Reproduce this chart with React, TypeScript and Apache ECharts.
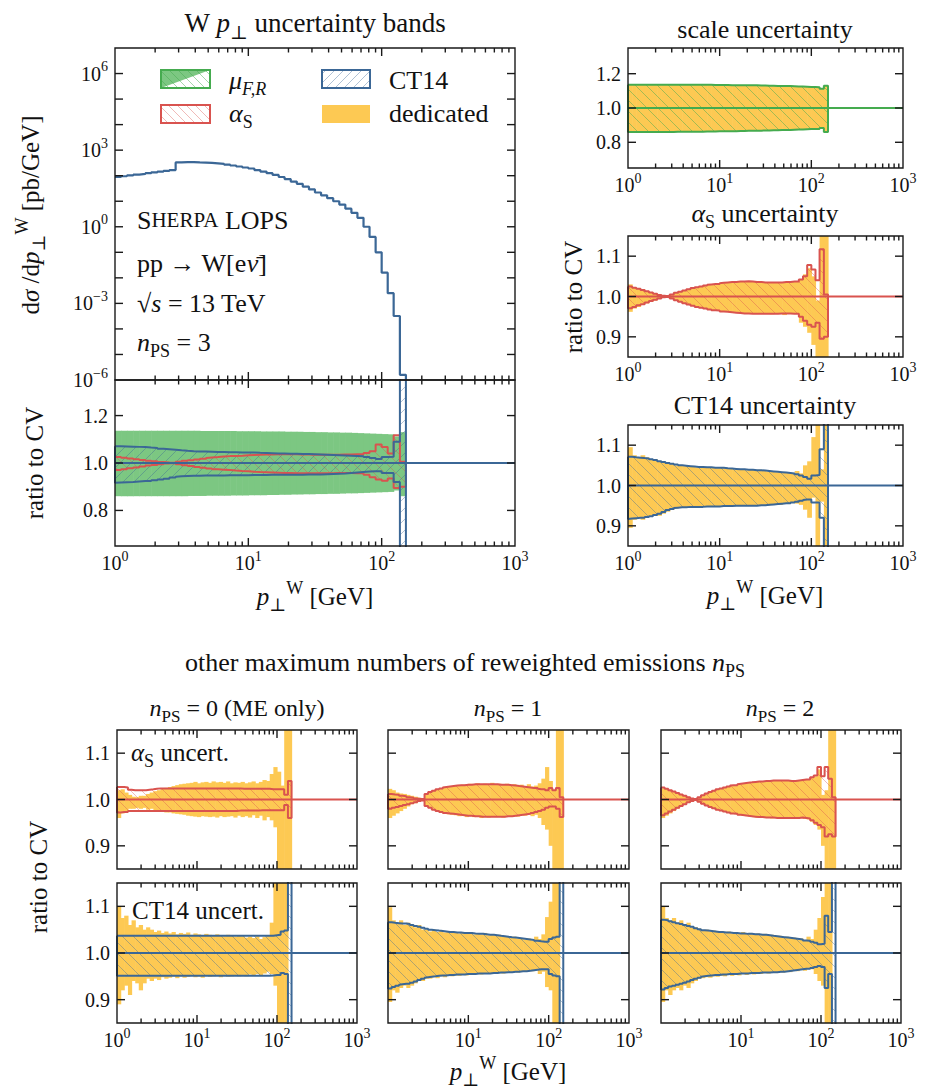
import React, { useEffect, useRef } from "react";
import * as echarts from "echarts";

// ---------- bins (GeV) ----------
const binEdges = [1, 1.11, 1.23, 1.37, 1.52, 1.69, 1.87, 2.08, 2.31, 2.56, 2.85, 3.16, 3.51, 3.9, 4.33, 4.81, 5.34, 5.93, 6.58, 7.31, 8.11, 9.01, 10, 11.1, 12.3, 13.7, 15.2, 16.9, 18.7, 20.8, 23.1, 25.6, 28.5, 31.6, 35.1, 39, 43.3, 48.1, 53.4, 59.3, 65.8, 73.1, 81.1, 90.1, 100, 111, 123, 137, 152];

// ---------- central value dσ/dp⊥ [pb/GeV] ----------
const xsecMain = [89, 95, 102, 110, 117, 126, 135, 145, 155, 166, 331, 339, 339, 331, 324, 316, 302, 288, 269, 251, 229, 209, 191, 166, 145, 126, 107, 89, 74, 59, 48, 37, 29, 22, 17, 13.2, 10, 7.4, 5.1, 3.5, 2.24, 1.0, 0.4, 0.1, 0.016, 0.0025, 0.00032, 0.0000016];

// ---------- n_PS = 3 (deviations from CV in %) ----------
const scaleUp3 = [13.6, 13.6, 13.6, 13.6, 13.6, 13.6, 13.6, 13.6, 13.6, 13.6, 13.6, 13.6, 13.6, 13.6, 13.5, 13.5, 13.5, 13.5, 13.5, 13.5, 13.4, 13.4, 13.4, 13.4, 13.3, 13.3, 13.3, 13.3, 13.2, 13.2, 13.2, 13.1, 13.1, 13.0, 13.0, 12.9, 12.9, 12.8, 12.8, 12.7, 12.6, 12.5, 12.4, 12.3, 12.2, 12.1, 11.2, 13.0];
const scaleDn3 = [-14.0, -14.0, -14.0, -14.0, -14.0, -14.0, -14.0, -14.0, -14.0, -14.0, -14.0, -14.0, -13.9, -13.9, -13.9, -13.8, -13.8, -13.8, -13.8, -13.7, -13.7, -13.7, -13.6, -13.6, -13.6, -13.5, -13.5, -13.4, -13.4, -13.3, -13.3, -13.2, -13.2, -13.1, -13.1, -13.0, -13.0, -12.9, -12.8, -12.8, -12.7, -12.6, -12.5, -12.4, -12.3, -12.2, -11.6, -14.0];

const alphaA3 = [2.5, 2.2, 1.9, 1.6, 1.3, 1.0, 0.7, 0.4, 0.2, -0.1, -0.5, -0.9, -1.3, -1.7, -2.0, -2.3, -2.6, -2.8, -3.0, -3.2, -3.4, -3.5, -3.7, -3.8, -3.9, -4.0, -4.1, -4.2, -4.2, -4.3, -4.3, -4.3, -4.3, -4.3, -4.3, -4.3, -4.2, -4.2, -4.2, -4.3, -4.3, -5.0, -6.0, -7.0, -7.5, -6.5, -10.5, -10.0];
const alphaB3 = [-2.9, -2.6, -2.2, -1.9, -1.5, -1.1, -0.8, -0.5, -0.2, 0.1, 0.5, 0.9, 1.2, 1.5, 1.8, 2.1, 2.3, 2.5, 2.7, 2.9, 3.0, 3.1, 3.3, 3.4, 3.5, 3.6, 3.6, 3.7, 3.7, 3.8, 3.7, 3.6, 3.6, 3.5, 3.5, 3.5, 3.5, 3.5, 3.6, 3.6, 3.7, 4.2, 5.0, 7.8, 6.7, 4.0, 11.7, 0.5];
const alphaYelUp3 = [3.0, 2.3, 2.0, 1.8, 1.4, 1.1, 0.8, 0.5, 0.3, 0.2, 0.5, 0.9, 1.2, 1.5, 1.8, 2.1, 2.3, 2.5, 2.7, 2.9, 3.0, 3.1, 3.3, 3.4, 3.4, 3.6, 3.6, 3.7, 3.7, 3.7, 3.7, 3.6, 3.6, 3.5, 3.5, 3.5, 3.5, 3.4, 3.6, 3.6, 3.7, 4.3, 5.5, 7.0, 5.0, -1.0, 20, 20];
const alphaYelDn3 = [-3.8, -3.0, -2.6, -2.0, -1.7, -1.3, -1.0, -0.6, -0.3, -0.2, -0.6, -1.0, -1.3, -1.7, -2.0, -2.3, -2.6, -2.8, -3.0, -3.2, -3.4, -3.5, -3.7, -3.8, -3.9, -4.0, -4.1, -4.2, -4.2, -4.3, -4.3, -4.3, -4.3, -4.3, -4.4, -4.3, -4.2, -4.6, -4.2, -4.3, -4.3, -6.5, -7.5, -9.0, -12.0, -16, -20, -20];

const ct14Up3 = [7.1, 7.0, 6.9, 6.8, 6.7, 6.5, 6.3, 6.0, 5.8, 5.6, 5.4, 5.2, 5.0, 4.9, 4.8, 4.7, 4.6, 4.6, 4.5, 4.5, 4.4, 4.4, 4.4, 4.3, 4.2, 4.1, 4.0, 4.0, 3.9, 3.9, 3.8, 3.8, 3.7, 3.6, 3.5, 3.4, 3.3, 3.2, 3.1, 3.0, 2.8, 2.5, 2.1, 1.7, 2.5, 2.6, 9.0, 40];
const ct14Dn3 = [-8.3, -8.2, -8.1, -8.0, -7.8, -7.6, -7.3, -7.0, -6.6, -6.1, -5.8, -5.6, -5.5, -5.4, -5.4, -5.3, -5.3, -5.3, -5.3, -5.2, -5.2, -5.2, -5.2, -5.1, -5.1, -5.1, -5.0, -5.0, -5.0, -5.0, -5.0, -5.0, -4.9, -4.9, -4.8, -4.7, -4.6, -4.5, -4.4, -4.2, -4.0, -3.8, -3.6, -3.5, -4.2, -4.2, -8.0, -40];
const ct14YelUp3 = [9.5, 7.5, 7.0, 7.5, 7.0, 6.5, 6.5, 6.0, 5.8, 5.5, 5.3, 5.0, 5.0, 4.8, 4.8, 4.7, 4.5, 4.6, 4.4, 4.6, 4.4, 4.3, 4.4, 4.2, 4.2, 4.0, 4.1, 4.0, 3.8, 3.9, 3.7, 3.9, 3.6, 3.5, 3.6, 3.3, 3.4, 3.2, 3.3, 3.0, 3.6, 3.0, 5.0, 6.0, 12, 20, 4, 20];
const ct14YelDn3 = [-10.5, -8.5, -8.0, -8.5, -8.0, -7.5, -7.5, -7.5, -7.0, -6.5, -6.0, -5.7, -5.5, -5.5, -5.5, -5.4, -5.2, -5.3, -5.3, -5.1, -5.3, -5.2, -5.0, -5.1, -5.2, -5.0, -5.1, -4.9, -5.1, -5.0, -4.9, -5.0, -4.8, -5.0, -4.7, -4.6, -4.8, -4.4, -4.6, -4.1, -4.5, -4.8, -6.0, -8.0, -3.0, -20, -4, -20];

// ---------- n_PS = 0 ----------
const alphaA0 = [2.7, 2.7, 2.6, 2.1, 2.0, 2.0, 2.0, 2.0, 2.1, 2.2, 2.3, 2.4, 2.4, 2.4, 2.4, 2.4, 2.4, 2.4, 2.4, 2.4, 2.4, 2.4, 2.4, 2.4, 2.4, 2.4, 2.4, 2.4, 2.4, 2.4, 2.4, 2.4, 2.4, 2.4, 2.3, 2.3, 2.3, 2.3, 2.3, 2.3, 2.3, 2.3, 2.2, 2.2, 2.2, 2.2, 1.0, 4.0];
const alphaB0 = [-2.8, -2.8, -2.7, -2.5, -2.5, -2.5, -2.5, -2.5, -2.5, -2.5, -2.5, -2.5, -2.5, -2.5, -2.5, -2.5, -2.5, -2.5, -2.5, -2.5, -2.5, -2.5, -2.5, -2.5, -2.5, -2.5, -2.5, -2.5, -2.5, -2.5, -2.5, -2.5, -2.5, -2.5, -2.4, -2.4, -2.4, -2.4, -2.4, -2.4, -2.3, -2.3, -2.3, -2.3, -2.3, -2.3, -1.2, -4.0];
const alphaYelUp0 = [2.0, 2.2, 1.5, 1.0, 0.6, 0.5, 0.8, 0.8, 1.2, 1.5, 1.8, 2.0, 2.3, 2.5, 2.7, 2.9, 3.1, 3.3, 3.4, 3.5, 3.6, 3.8, 3.5, 3.7, 3.8, 3.6, 3.9, 3.7, 3.8, 3.6, 3.9, 3.5, 3.7, 3.6, 3.8, 3.5, 3.7, 3.9, 3.5, 3.8, 4.2, 4.0, 5.5, 7.0, 6.0, 3.0, 20, 20];
const alphaYelDn0 = [-4.0, -3.0, -2.5, -2.0, -2.0, -1.8, -2.0, -1.8, -2.2, -2.0, -2.3, -2.5, -2.6, -2.8, -2.8, -3.0, -3.1, -3.2, -3.3, -3.5, -3.6, -3.7, -3.8, -3.6, -3.7, -3.8, -3.7, -3.9, -3.6, -3.8, -3.7, -3.6, -3.9, -3.5, -3.8, -3.6, -3.9, -3.4, -4.0, -3.5, -4.5, -3.8, -4.5, -6.0, -16, -20, -20, -20];
const ct14Up0 = [3.7, 3.7, 3.7, 3.7, 3.7, 3.7, 3.7, 3.7, 3.7, 3.7, 3.7, 3.7, 3.7, 3.7, 3.7, 3.7, 3.7, 3.7, 3.7, 3.7, 3.7, 3.7, 3.7, 3.7, 3.7, 3.7, 3.7, 3.7, 3.7, 3.7, 3.7, 3.7, 3.7, 3.7, 3.7, 3.7, 3.7, 3.7, 3.7, 3.7, 3.7, 3.7, 3.7, 3.8, 3.9, 4.6, 4.8, 40];
const ct14Dn0 = [-4.9, -4.9, -4.9, -4.9, -4.9, -4.9, -4.9, -4.9, -4.9, -4.9, -4.9, -4.9, -4.9, -4.9, -4.9, -4.9, -4.9, -4.9, -4.9, -4.9, -4.9, -4.9, -4.9, -4.9, -4.9, -4.9, -4.9, -4.9, -4.9, -4.9, -4.9, -4.9, -4.9, -4.9, -4.9, -4.9, -4.9, -4.9, -4.9, -4.9, -4.9, -4.9, -4.9, -4.8, -4.7, -4.3, -4.5, -40];
const ct14YelUp0 = [10, 7.5, 8, 6, 7, 5.5, 6, 5, 5.5, 5, 4.5, 4.8, 4.3, 4.6, 4.2, 4.5, 4.0, 4.3, 4.1, 4.4, 3.9, 4.2, 4.0, 3.8, 4.1, 3.9, 3.7, 4.0, 3.8, 3.6, 3.9, 3.7, 3.5, 3.8, 3.6, 3.3, 3.5, 3.2, 3.6, 3.0, 3.4, 3.8, 6.5, 20, 20, 20, 20, 0];
const ct14YelDn0 = [-11, -8, -7, -9, -6, -6.5, -8, -6.5, -5.5, -6, -5.5, -5.8, -5.2, -5.5, -5.3, -5.0, -5.4, -5.0, -5.3, -5.1, -4.9, -5.2, -5.0, -5.3, -4.9, -5.1, -5.0, -4.8, -5.2, -4.9, -5.1, -5.0, -4.8, -5.0, -4.7, -5.0, -4.6, -4.9, -4.5, -4.8, -4.4, -4.0, -4.5, -7, -20, -20, -20, 0];

// ---------- n_PS = 1 ----------
const alphaA1 = [1.2, 1.1, 1.0, 0.8, 0.7, 0.5, 0.4, 0.2, 0.1, -0.2, -1.4, -1.8, -2.2, -2.5, -2.7, -2.9, -3.0, -3.1, -3.2, -3.3, -3.4, -3.5, -3.5, -3.6, -3.6, -3.7, -3.7, -3.7, -3.7, -3.7, -3.7, -3.7, -3.6, -3.6, -3.5, -3.4, -3.3, -3.2, -3.1, -2.9, -2.7, -2.5, -2.2, -1.8, -1.5, -1.5, -2.0, -3.8];
const alphaB1 = [-2.0, -1.8, -1.6, -1.4, -1.2, -1.0, -0.8, -0.6, -0.3, 0.1, 1.2, 1.6, 1.9, 2.2, 2.4, 2.6, 2.7, 2.8, 2.9, 3.0, 3.1, 3.1, 3.2, 3.2, 3.3, 3.3, 3.3, 3.3, 3.3, 3.3, 3.3, 3.2, 3.2, 3.2, 3.1, 3.0, 2.9, 2.8, 2.7, 2.6, 2.5, 2.3, 2.2, 2.0, 2.5, 2.0, 2.5, 0.5];
const alphaYelUp1 = [2.3, 2.0, 1.5, 1.3, 1.2, 1.0, 0.8, 0.6, 0.4, 0.3, 1.2, 1.6, 1.9, 2.2, 2.4, 2.6, 2.7, 2.9, 3.0, 3.1, 3.2, 3.2, 3.4, 3.2, 3.5, 3.3, 3.4, 3.3, 3.6, 3.3, 3.4, 3.2, 3.4, 3.1, 3.3, 3.0, 3.2, 2.9, 3.3, 2.8, 3.0, 3.5, 4.5, 7.0, 4.0, 2.0, 20, 20];
const alphaYelDn1 = [-4.0, -3.5, -3.0, -2.5, -2.0, -1.5, -1.0, -0.8, -0.4, -0.3, -1.4, -1.8, -2.2, -2.5, -2.8, -3.0, -3.2, -3.3, -3.4, -3.6, -3.5, -3.8, -3.6, -3.8, -3.7, -4.0, -3.7, -3.9, -3.7, -3.8, -3.7, -3.9, -3.6, -3.7, -3.5, -3.7, -3.3, -3.5, -3.2, -3.6, -3.3, -4.0, -5.5, -6.5, -10, -15, -20, -20];
const ct14Up1 = [6.6, 6.5, 6.4, 6.3, 6.3, 6.2, 6.0, 5.8, 5.6, 5.4, 5.2, 5.0, 4.9, 4.8, 4.7, 4.6, 4.5, 4.5, 4.4, 4.4, 4.3, 4.3, 4.3, 4.2, 4.1, 4.1, 4.0, 3.9, 3.9, 3.8, 3.7, 3.6, 3.5, 3.4, 3.3, 3.2, 3.1, 3.0, 2.9, 2.8, 2.6, 2.5, 2.4, 2.4, 3.0, 3.3, 3.5, 40];
const ct14Dn1 = [-7.6, -7.3, -7.0, -6.8, -6.7, -6.6, -6.4, -6.1, -5.8, -5.5, -5.3, -5.2, -5.1, -5.0, -4.9, -4.8, -4.8, -4.7, -4.7, -4.6, -4.6, -4.6, -4.5, -4.5, -4.5, -4.4, -4.4, -4.4, -4.4, -4.3, -4.3, -4.2, -4.2, -4.1, -4.1, -4.0, -4.0, -3.9, -3.9, -3.8, -3.7, -3.6, -3.5, -3.5, -4.5, -4.8, -5.0, -40];
const ct14YelUp1 = [9.8, 7, 6.5, 7, 6, 6.5, 6, 5.5, 6, 5, 5, 4.6, 5, 4.5, 4.8, 4.4, 4.6, 4.3, 4.5, 4.2, 4.4, 4.2, 4.5, 4.0, 4.2, 4.0, 4.3, 3.8, 4.0, 3.7, 3.9, 3.5, 3.6, 3.3, 3.5, 3.1, 3.2, 2.9, 3.1, 2.7, 3.5, 3.0, 4.0, 7.7, 11, 20, 20, 0];
const ct14YelDn1 = [-10.5, -8, -8.5, -7.5, -7, -7.5, -7, -6.5, -6, -6, -5.5, -5.5, -5.2, -5.4, -5, -5.2, -4.8, -5, -4.8, -4.9, -4.6, -4.8, -4.6, -4.7, -4.5, -4.6, -4.4, -4.5, -4.3, -4.5, -4.2, -4.4, -4.1, -4.3, -4.0, -4.2, -3.9, -4.0, -3.8, -3.9, -3.6, -4.5, -4.0, -7.3, -8, -20, -20, 0];

// ---------- n_PS = 2 ----------
const alphaA2 = [2.6, 2.3, 2.0, 1.7, 1.4, 1.1, 0.8, 0.5, 0.2, -0.1, -0.5, -0.9, -1.3, -1.6, -1.9, -2.2, -2.4, -2.6, -2.8, -3.0, -3.1, -3.3, -3.4, -3.5, -3.6, -3.7, -3.8, -3.8, -3.9, -3.9, -3.9, -4.0, -4.0, -4.0, -4.0, -4.0, -4.0, -4.0, -3.9, -4.0, -4.1, -4.5, -5.0, -5.5, -6.0, -8.0, -7.5, -8.0];
const alphaB2 = [-3.4, -3.0, -2.6, -2.2, -1.8, -1.4, -1.0, -0.6, -0.3, 0.1, 0.5, 0.9, 1.3, 1.6, 1.9, 2.2, 2.4, 2.6, 2.8, 3.0, 3.1, 3.3, 3.4, 3.5, 3.6, 3.7, 3.8, 3.9, 3.9, 4.0, 4.0, 4.1, 4.1, 4.1, 4.1, 4.1, 4.0, 4.0, 4.1, 4.2, 4.3, 4.8, 5.2, 7.0, 5.0, 7.0, 4.5, 0.5];
const alphaYelUp2 = [2.4, 2.3, 2.0, 1.7, 1.4, 1.1, 0.8, 0.6, 0.3, 0.2, 0.5, 0.9, 1.3, 1.6, 1.9, 2.2, 2.4, 2.6, 2.8, 3.0, 3.1, 3.3, 3.4, 3.5, 3.6, 3.7, 3.8, 3.9, 3.9, 4.0, 4.0, 4.1, 4.0, 4.1, 4.0, 4.1, 4.0, 4.0, 4.1, 4.3, 4.2, 4.8, 5.0, 6.5, 1.0, 2.0, 20, 20];
const alphaYelDn2 = [-4.0, -3.5, -3.0, -2.5, -2.0, -1.5, -1.1, -0.7, -0.4, -0.2, -0.6, -1.0, -1.4, -1.7, -2.0, -2.3, -2.5, -2.7, -2.9, -3.1, -3.2, -3.4, -3.5, -3.6, -3.7, -3.8, -3.9, -3.9, -4.0, -4.0, -4.1, -4.0, -4.1, -4.0, -4.1, -4.0, -4.1, -4.0, -4.0, -4.2, -4.3, -4.8, -5.5, -6.5, -10, -16, -20, -20];
const ct14Up2 = [7.1, 7.0, 6.8, 6.6, 6.4, 6.2, 6.0, 5.8, 5.6, 5.3, 5.1, 4.9, 4.8, 4.7, 4.6, 4.5, 4.5, 4.4, 4.4, 4.3, 4.3, 4.2, 4.2, 4.1, 4.1, 4.0, 4.0, 3.9, 3.9, 3.8, 3.7, 3.6, 3.5, 3.4, 3.3, 3.2, 3.1, 3.0, 2.9, 2.7, 2.6, 2.4, 2.2, 1.9, 2.0, 8.0, 4.5, 40];
const ct14Dn2 = [-7.8, -7.5, -7.2, -7.0, -6.8, -6.6, -6.4, -6.1, -5.8, -5.5, -5.3, -5.1, -5.0, -4.9, -4.8, -4.7, -4.7, -4.6, -4.6, -4.5, -4.5, -4.5, -4.4, -4.4, -4.4, -4.3, -4.3, -4.3, -4.2, -4.2, -4.2, -4.1, -4.1, -4.0, -4.0, -3.9, -3.8, -3.7, -3.6, -3.5, -3.4, -3.2, -3.0, -2.8, -3.0, -7.5, -4.5, -40];
const ct14YelUp2 = [10, 7.5, 7, 7.5, 6.5, 7, 6, 6.5, 5.5, 5.5, 5.2, 4.8, 5, 4.6, 4.8, 4.5, 4.7, 4.3, 4.6, 4.2, 4.5, 4.3, 4.5, 4.1, 4.3, 4.0, 4.2, 3.9, 4.1, 3.8, 3.9, 3.6, 3.7, 3.4, 3.5, 3.2, 3.3, 3.0, 3.1, 2.8, 3.5, 3.0, 5.0, 7.5, 12, 20, 20, 0];
const ct14YelDn2 = [-10.5, -8, -9, -8, -7.5, -8, -7, -7.5, -6.5, -6, -5.5, -5.4, -5.2, -5.3, -5, -5.1, -4.9, -5, -4.7, -4.9, -4.6, -4.8, -4.5, -4.7, -4.4, -4.6, -4.3, -4.5, -4.2, -4.4, -4.1, -4.3, -4.0, -4.2, -3.9, -4.1, -3.8, -3.9, -3.6, -3.8, -3.4, -3.5, -4.5, -6, -7, -20, -20, 0];

// ---------- ticks ----------
const xMajorTicks = [1, 10, 100, 1000];
const xTickExp = ["0", "1", "2", "3"];
const xMinorTicks = [2, 3, 4, 5, 6, 7, 8, 9, 20, 30, 40, 50, 60, 70, 80, 90, 200, 300, 400, 500, 600, 700, 800, 900];
const mainYTicks = [1e-5, 1e-4, 1e-3, 1e-2, 1e-1, 1, 10, 100, 1e3, 1e4, 1e5, 1e6];
const mainYLabelVals = [1e-6, 1e-3, 1, 1e3, 1e6];
const mainYLabelExp = ["−6", "−3", "0", "3", "6"];
const wideRatioTicks = [0.8, 1.0, 1.2];
const narrowRatioTicks = [0.9, 1.0, 1.1];

// ---------- style ----------
const FONT = "Liberation Serif, DejaVu Serif, serif";
const C_RED = "#d9534f";
const C_BLUE = "#3b6796";
const C_GREEN = "#45ab4f";
const C_GREEN_FILL = "#7cc782";
const C_YEL = "#fdc953";
const C_AX = "#1a1a1a";
const H_RED = "rgba(217,83,79,0.45)";
const H_BLUE = "rgba(59,103,150,0.45)";
const H_GREEN = "rgba(69,171,79,0.55)";

function rich(F: number) {
  const lh = Math.round(F * 1.4);
  const sm = Math.round(F * 0.7);
  return {
    r: { fontSize: F, lineHeight: lh, fontFamily: FONT, fill: "#111" },
    i: { fontSize: F, lineHeight: lh, fontFamily: FONT, fontStyle: "italic", fill: "#111" },
    sub: { fontSize: sm, lineHeight: sm, fontFamily: FONT, verticalAlign: "bottom", fill: "#111" },
    subi: { fontSize: sm, lineHeight: sm, fontFamily: FONT, fontStyle: "italic", verticalAlign: "bottom", fill: "#111" },
    sup: { fontSize: sm, lineHeight: sm, fontFamily: FONT, verticalAlign: "top", fill: "#111" },
    sc: { fontSize: Math.round(F * 0.8), lineHeight: lh, fontFamily: FONT, verticalAlign: "middle", fill: "#111" },
  };
}

function gtext(x: number, y: number, text: string, F: number, align = "center", rotate = 0): any {
  return {
    type: "text",
    x,
    y,
    rotation: rotate,
    silent: true,
    style: { text, fontFamily: FONT, fontSize: F, fill: "#111", align, verticalAlign: "middle", rich: rich(F) },
  };
}

// hatch lines inside a pixel rectangle; dir 1 = "\" , dir -1 = "/"
function hatchLines(x0: number, x1: number, y0: number, y1: number, color: string, dir: number, sp: number): any[] {
  const out: any[] = [];
  if (dir > 0) {
    const kStart = Math.ceil((y0 - x1) / sp) * sp;
    for (let k = kStart; k <= y1 - x0; k += sp) {
      const xs = Math.max(x0, y0 - k), xe = Math.min(x1, y1 - k);
      if (xe > xs) out.push({ type: "line", shape: { x1: xs, y1: xs + k, x2: xe, y2: xe + k }, style: { stroke: color, lineWidth: 0.9 } });
    }
  } else {
    const kStart = Math.ceil((x0 + y0) / sp) * sp;
    for (let k = kStart; k <= x1 + y1; k += sp) {
      const xs = Math.max(x0, k - y1), xe = Math.min(x1, k - y0);
      if (xe > xs) out.push({ type: "line", shape: { x1: xs, y1: k - xs, x2: xe, y2: k - xe }, style: { stroke: color, lineWidth: 0.9 } });
    }
  }
  return out;
}

// grid rectangles [left, top, width, height]
const grids = [
  [115, 48, 400, 332], // 0 main
  [115, 380, 400, 166], // 1 main ratio
  [628, 48, 275, 120], // 2 scale
  [628, 236, 275, 121], // 3 alpha
  [628, 425, 275, 121], // 4 ct14
  [117, 730, 240, 139], // 5 alpha n0
  [388, 730, 241, 139], // 6 alpha n1
  [661, 730, 240, 139], // 7 alpha n2
  [117, 883, 240, 140], // 8 ct n0
  [388, 883, 241, 140], // 9 ct n1
  [661, 883, 240, 140], // 10 ct n2
];

function outline(g: number, up: number[], dn: number[], color: string, z = 5): any {
  const pts: number[][] = [];
  for (let i = 0; i < up.length; i++) {
    const v = 1 + up[i] / 100;
    pts.push([binEdges[i], v], [binEdges[i + 1], v]);
  }
  for (let i = dn.length - 1; i >= 0; i--) {
    const v = 1 + dn[i] / 100;
    pts.push([binEdges[i + 1], v], [binEdges[i], v]);
  }
  pts.push(pts[0]);
  return {
    type: "line", xAxisIndex: g, yAxisIndex: g, data: pts, symbol: "none", showSymbol: false,
    lineStyle: { color, width: 2 }, clip: true, silent: true, z,
  };
}

function centerLine(g: number, color: string): any {
  return {
    type: "line", xAxisIndex: g, yAxisIndex: g, data: [[1, 1], [1000, 1]], symbol: "none",
    lineStyle: { color, width: 2 }, clip: true, silent: true, z: 6,
  };
}

function bandData(up: number[], dn: number[]) {
  return up.map((u, i) => [binEdges[i], binEdges[i + 1], 1 + u / 100, 1 + dn[i] / 100]);
}

function bandRect(params: any, api: any) {
  const cs = params.coordSys;
  const a = api.coord([api.value(0), api.value(2)]);
  const b = api.coord([api.value(1), api.value(3)]);
  const top = Math.max(cs.y, Math.min(a[1], b[1]));
  const bot = Math.min(cs.y + cs.height, Math.max(a[1], b[1]));
  return { x0: a[0], x1: b[0], top, bot };
}

function fillBand(g: number, up: number[], dn: number[], color: string, z = 2): any {
  return {
    type: "custom", xAxisIndex: g, yAxisIndex: g, silent: true, z, data: bandData(up, dn),
    encode: { x: 0, y: 2 },
    renderItem: (params: any, api: any) => {
      const r = bandRect(params, api);
      if (r.bot - r.top < 0.1) return null;
      return { type: "rect", shape: { x: r.x0, y: r.top, width: r.x1 - r.x0 + 0.6, height: r.bot - r.top }, style: { fill: color } };
    },
  };
}

function hatchBand(g: number, up: number[], dn: number[], color: string, dir = 1, z = 3): any {
  return {
    type: "custom", xAxisIndex: g, yAxisIndex: g, silent: true, z, data: bandData(up, dn),
    encode: { x: 0, y: 2 },
    renderItem: (params: any, api: any) => {
      const r = bandRect(params, api);
      if (r.bot - r.top < 0.5) return null;
      return { type: "group", children: hatchLines(r.x0, r.x1, r.top, r.bot, color, dir, 11) };
    },
  };
}

type Decor = { yRef: number; xLabels: boolean; skipFirstX?: boolean; yTicks: number[]; yLabels: [number, string][] };

function decor(g: number, d: Decor): any {
  return {
    type: "custom", xAxisIndex: g, yAxisIndex: g, silent: true, z: 20,
    data: [[1, d.yRef]],
    renderItem: (params: any, api: any) => {
      const cs = params.coordSys;
      const L = cs.x, R = cs.x + cs.width, T = cs.y, B = cs.y + cs.height;
      const ch: any[] = [];
      const tk = (x1: number, y1: number, x2: number, y2: number) =>
        ch.push({ type: "line", shape: { x1, y1, x2, y2 }, style: { stroke: C_AX, lineWidth: 1.4 } });
      ch.push({ type: "rect", shape: { x: L, y: T, width: R - L, height: B - T }, style: { fill: "none", stroke: C_AX, lineWidth: 1.4 } });
      xMajorTicks.forEach((v, i) => {
        const x = api.coord([v, d.yRef])[0];
        if (v > 1 && v < 1000) { tk(x, B, x, B - 8); tk(x, T, x, T + 8); }
        if (d.xLabels && !(d.skipFirstX && i === 0)) {
          ch.push({ type: "text", x, y: B + 3, style: { text: "{r|10}{sup|" + xTickExp[i] + "}", align: "center", verticalAlign: "top", rich: rich(20), fontFamily: FONT, fontSize: 20, fill: "#111" } });
        }
      });
      xMinorTicks.forEach((v) => {
        const x = api.coord([v, d.yRef])[0];
        tk(x, B, x, B - 4.5); tk(x, T, x, T + 4.5);
      });
      d.yTicks.forEach((v) => {
        const y = api.coord([1, v])[1];
        tk(L, y, L + 8, y); tk(R, y, R - 8, y);
      });
      d.yLabels.forEach(([v, t]) => {
        const y = api.coord([1, v])[1];
        ch.push({ type: "text", x: L - 7, y, style: { text: t, align: "right", verticalAlign: "middle", rich: rich(20), fontFamily: FONT, fontSize: 20, fill: "#111" } });
      });
      return { type: "group", children: ch };
    },
  };
}

const ratioLabels = (vals: number[]): [number, string][] => vals.map((v) => [v, "{r|" + v.toFixed(1) + "}"]);

export default function App() {
  const ref = useRef<HTMLDivElement>(null);
  useEffect(() => {
    if (!ref.current) return;
    const chart = echarts.init(ref.current, null, { renderer: "svg" });

    const mainPts: number[][] = [];
    xsecMain.forEach((v, i) => mainPts.push([binEdges[i], v], [binEdges[i + 1], v]));
    mainPts.push([binEdges[binEdges.length - 1], 1e-8]);

    const series: any[] = [];
    // main
    series.push({ type: "line", xAxisIndex: 0, yAxisIndex: 0, data: mainPts, symbol: "none", lineStyle: { color: C_BLUE, width: 2.2 }, clip: true, silent: true, z: 5 });
    series.push(decor(0, { yRef: 1, xLabels: false, yTicks: mainYTicks, yLabels: mainYLabelVals.map((v, i) => [v, "{r|10}{sup|" + mainYLabelExp[i] + "}"] as [number, string]) }));
    // main ratio
    series.push(fillBand(1, scaleUp3, scaleDn3, C_GREEN_FILL));
    series.push(hatchBand(1, alphaA3, alphaB3, H_RED, 1));
    series.push(hatchBand(1, ct14Up3, ct14Dn3, H_BLUE, -1));
    series.push(outline(1, alphaA3, alphaB3, C_RED, 4));
    series.push(outline(1, ct14Up3, ct14Dn3, C_BLUE, 5));
    series.push(centerLine(1, C_BLUE));
    series.push(decor(1, { yRef: 1, xLabels: true, yTicks: wideRatioTicks, yLabels: ratioLabels(wideRatioTicks) }));
    // scale
    series.push(fillBand(2, scaleUp3, scaleDn3, C_YEL));
    series.push(hatchBand(2, scaleUp3, scaleDn3, H_GREEN, 1));
    series.push(outline(2, scaleUp3, scaleDn3, C_GREEN));
    series.push(centerLine(2, C_GREEN));
    series.push(decor(2, { yRef: 1, xLabels: true, yTicks: wideRatioTicks, yLabels: ratioLabels(wideRatioTicks) }));
    // alpha
    series.push(fillBand(3, alphaYelUp3, alphaYelDn3, C_YEL));
    series.push(hatchBand(3, alphaA3, alphaB3, H_RED, 1));
    series.push(outline(3, alphaA3, alphaB3, C_RED));
    series.push(centerLine(3, C_RED));
    series.push(decor(3, { yRef: 1, xLabels: true, yTicks: narrowRatioTicks, yLabels: ratioLabels(narrowRatioTicks) }));
    // ct14
    series.push(fillBand(4, ct14YelUp3, ct14YelDn3, C_YEL));
    series.push(hatchBand(4, ct14Up3, ct14Dn3, H_BLUE, 1));
    series.push(outline(4, ct14Up3, ct14Dn3, C_BLUE));
    series.push(centerLine(4, C_BLUE));
    series.push(decor(4, { yRef: 1, xLabels: true, yTicks: narrowRatioTicks, yLabels: ratioLabels(narrowRatioTicks) }));
    // bottom rows
    const aSets = [
      [alphaA0, alphaB0, alphaYelUp0, alphaYelDn0],
      [alphaA1, alphaB1, alphaYelUp1, alphaYelDn1],
      [alphaA2, alphaB2, alphaYelUp2, alphaYelDn2],
    ];
    const cSets = [
      [ct14Up0, ct14Dn0, ct14YelUp0, ct14YelDn0],
      [ct14Up1, ct14Dn1, ct14YelUp1, ct14YelDn1],
      [ct14Up2, ct14Dn2, ct14YelUp2, ct14YelDn2],
    ];
    for (let k = 0; k < 3; k++) {
      const ga = 5 + k, gc = 8 + k;
      const [aA, aB, ayU, ayD] = aSets[k];
      series.push(fillBand(ga, ayU, ayD, C_YEL));
      series.push(hatchBand(ga, aA, aB, H_RED, 1));
      series.push(outline(ga, aA, aB, C_RED));
      series.push(centerLine(ga, C_RED));
      series.push(decor(ga, { yRef: 1, xLabels: false, yTicks: narrowRatioTicks, yLabels: k === 0 ? ratioLabels(narrowRatioTicks) : [] }));
      const [cU, cD, cyU, cyD] = cSets[k];
      series.push(fillBand(gc, cyU, cyD, C_YEL));
      series.push(hatchBand(gc, cU, cD, H_BLUE, 1));
      series.push(outline(gc, cU, cD, C_BLUE));
      series.push(centerLine(gc, C_BLUE));
      series.push(decor(gc, { yRef: 1, xLabels: true, skipFirstX: k > 0, yTicks: narrowRatioTicks, yLabels: k === 0 ? ratioLabels(narrowRatioTicks) : [] }));
    }

    const yRanges: [number, number][] = [[1e-6, 1e7], [0.65, 1.35], [0.65, 1.35], [0.85, 1.15], [0.85, 1.15], [0.85, 1.15], [0.85, 1.15], [0.85, 1.15], [0.85, 1.15], [0.85, 1.15], [0.85, 1.15]];
    const hidden = { axisLine: { show: false }, axisTick: { show: false }, axisLabel: { show: false }, splitLine: { show: false } };

    const graphics: any[] = [
      // titles
      gtext(315, 23, "{r|W }{i|p}{sub|⊥}{r| uncertainty bands}", 27),
      gtext(30, 215, "{r|d}{i|σ}{r| /d}{i|p}{sub|⊥}{sup|W}{r| [pb/GeV]}", 25, "center", Math.PI / 2),
      gtext(34, 463, "{r|ratio to CV}", 25, "center", Math.PI / 2),
      gtext(315, 596, "{i|p}{sub|⊥}{sup|W}{r| [GeV]}", 25),
      gtext(765, 29, "{r|scale uncertainty}", 26),
      gtext(765, 213, "{i|α}{sub|S}{r| uncertainty}", 26),
      gtext(765, 405, "{r|CT14 uncertainty}", 26),
      gtext(573, 297, "{r|ratio to CV}", 25, "center", Math.PI / 2),
      gtext(765, 595, "{i|p}{sub|⊥}{sup|W}{r| [GeV]}", 25),
      gtext(465, 662, "{r|other maximum numbers of reweighted emissions }{i|n}{sub|PS}", 26),
      gtext(237, 708, "{i|n}{sub|PS}{r| = 0 (ME only)}", 24),
      gtext(508, 708, "{i|n}{sub|PS}{r| = 1}", 24),
      gtext(780, 708, "{i|n}{sub|PS}{r| = 2}", 24),
      gtext(131, 752, "{i|α}{sub|S}{r| uncert.}", 25, "left"),
      gtext(132, 910, "{r|CT14 uncert.}", 25, "left"),
      gtext(38, 877, "{r|ratio to CV}", 25, "center", Math.PI / 2),
      gtext(508, 1071, "{i|p}{sub|⊥}{sup|W}{r| [GeV]}", 25),
      // annotations
      gtext(137, 220, "{r|S}{sc|HERPA}{r| LOPS}", 26, "left"),
      gtext(137, 263, "{r|pp → W[e}{i|ν̄}{r|]}", 26, "left"),
      gtext(137, 303, "{r|√}{i|s}{r| = 13 TeV}", 26, "left"),
      gtext(137, 342, "{i|n}{sub|PS}{r| = 3}", 26, "left"),
      // legend patches
      { type: "polygon", silent: true, shape: { points: [[161, 70], [210, 70], [161, 88]] }, style: { fill: C_GREEN_FILL } },
      ...hatchLines(161, 210, 70, 88, H_GREEN, 1, 9).map((e) => ({ ...e, silent: true })),
      { type: "rect", silent: true, shape: { x: 161, y: 70, width: 49, height: 18 }, style: { fill: "none", stroke: C_GREEN, lineWidth: 2 } },
      ...hatchLines(161, 210, 105, 123, H_RED, 1, 9).map((e) => ({ ...e, silent: true })),
      { type: "rect", silent: true, shape: { x: 161, y: 105, width: 49, height: 18 }, style: { fill: "none", stroke: C_RED, lineWidth: 2 } },
      ...hatchLines(322, 370, 70, 88, H_BLUE, -1, 9).map((e) => ({ ...e, silent: true })),
      { type: "rect", silent: true, shape: { x: 322, y: 70, width: 48, height: 18 }, style: { fill: "none", stroke: C_BLUE, lineWidth: 2 } },
      { type: "rect", silent: true, shape: { x: 322, y: 105, width: 48, height: 18 }, style: { fill: C_YEL } },
      gtext(229, 80, "{i|μ}{subi|F,R}", 26, "left"),
      gtext(229, 113, "{i|α}{sub|S}", 26, "left"),
      gtext(389, 80, "{r|CT14}", 26, "left"),
      gtext(389, 113, "{r|dedicated}", 26, "left"),
    ];

    chart.setOption({
      animation: false,
      backgroundColor: "#ffffff",
      grid: grids.map(([left, top, width, height]) => ({ left, top, width, height, show: false })),
      xAxis: grids.map((_, i) => ({ type: "log", logBase: 10, min: 1, max: 1000, gridIndex: i, ...hidden })),
      yAxis: grids.map((_, i) => i === 0
        ? { type: "log", logBase: 10, min: yRanges[i][0], max: yRanges[i][1], gridIndex: i, ...hidden }
        : { type: "value", min: yRanges[i][0], max: yRanges[i][1], gridIndex: i, ...hidden }),
      series,
      graphic: { elements: graphics },
    });
    return () => chart.dispose();
  }, []);
  return <div ref={ref} style={{ position: "absolute", left: 0, top: 0, width: 930, height: 1092 }} />;
}
